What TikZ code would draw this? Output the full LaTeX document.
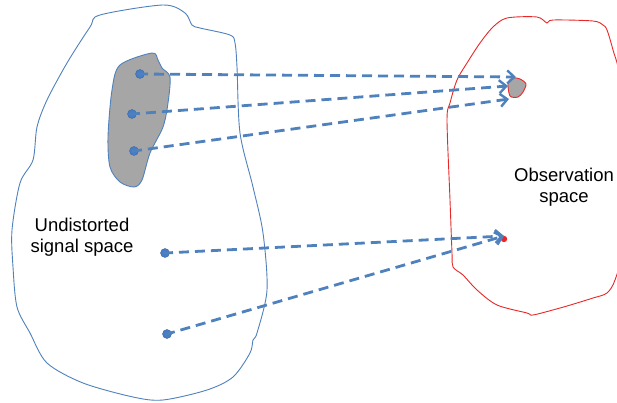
\documentclass[tikz,border=0pt]{standalone}
\usepackage{fontspec}
\setmainfont{Liberation Sans}
\usetikzlibrary{arrows.meta}
\definecolor{ablue}{RGB}{79,129,189}
\definecolor{dblue}{RGB}{70,125,200}
\definecolor{bgray}{RGB}{166,166,166}
\definecolor{ored}{RGB}{232,40,40}
\tikzset{
  dotnode/.style={circle, fill=dblue, draw=ablue!80!black, line width=0.4pt, inner sep=0pt, minimum size=9pt},
  maparrow/.style={draw=ablue, line width=2.8pt, dash pattern=on 10pt off 6pt, -{Straight Barb[length=7pt,width=13pt,line width=2.4pt]}, shorten <=-2pt},
  lbl/.style={font=\fontsize{18.5}{20.5}\selectfont, align=center, inner sep=0pt, text=black},
  blobline/.style={draw=ablue, line width=0.9pt},
  redline/.style={draw=ored, line width=0.9pt}
}
\begin{document}
\begin{tikzpicture}[x=1pt,y=-1pt]
\useasboundingbox (0,0) rectangle (617,403);
\clip (0,0) rectangle (617,403);
% left blob
\draw[blobline, fill=white] plot[smooth cycle, tension=0.5] coordinates {
 (100,15) (163,5) (185,13) (192,25) (200,28) (230,35) (235,43) (237,67) (240,133)
 (253,187) (263,233) (267,290) (257,333) (253,340) (250,353) (233,377) (207,390)
 (163,400) (133,397) (83,383) (47,363) (30,333) (17,307) (13,267) (12,230) (20,183)
 (33,160) (37,127) (47,100) (67,63) (90,27)};
% right blob
\draw[redline, fill=white] plot[smooth cycle, tension=0.5] coordinates {
 (537,17) (547,23) (553,20) (593,21) (603,25) (607,30) (613,50) (620,80) (624,170)
 (622,250) (615,280) (607,293) (593,298) (577,303) (560,308) (533,315) (527,313)
 (497,305) (477,290) (463,275) (453,267) (452,253) (450,200) (447,120) (450,103)
 (457,80) (467,63) (480,43) (493,27) (507,18)};
% gray blob
\draw[blobline, fill=bgray] plot[smooth cycle, tension=0.5] coordinates {
 (152,53) (120,65) (112,90) (108,137) (110,167) (120,182) (134,187) (142,180)
 (150,153) (163,127) (168,103) (170,77) (162,68) (158,60)};
% small gray blob
\draw[redline, fill=bgray] plot[smooth cycle, tension=0.5] coordinates {
 (508,83) (513,78) (520,79) (526,84) (523,92) (518,97) (510,96)};
% red point
\fill[ored] (504,239) circle (3.2);
% labels
\node[lbl] (undist) at (82,237) {Undistorted\\signal space};
\node[lbl] (obs) at (564,187) {Observation\\space};
% dots
\node[dotnode] (p1) at (140,74) {};
\node[dotnode] (p2) at (132,114) {};
\node[dotnode] (p3) at (134,151) {};
\node[dotnode] (p4) at (165,253) {};
\node[dotnode] (p5) at (167,334) {};
\coordinate (t1) at (516,77);
\coordinate (t2) at (508,86);
\coordinate (t3) at (509,99);
\coordinate (t4) at (504,236);
% arrows
\draw[maparrow] (p1.center) -- (t1);
\draw[maparrow] (p2.center) -- (t2);
\draw[maparrow] (p3.center) -- (t3);
\draw[maparrow] (p4.center) -- (t4);
\draw[maparrow] (p5.center) -- (t4);
\end{tikzpicture}
\end{document}
